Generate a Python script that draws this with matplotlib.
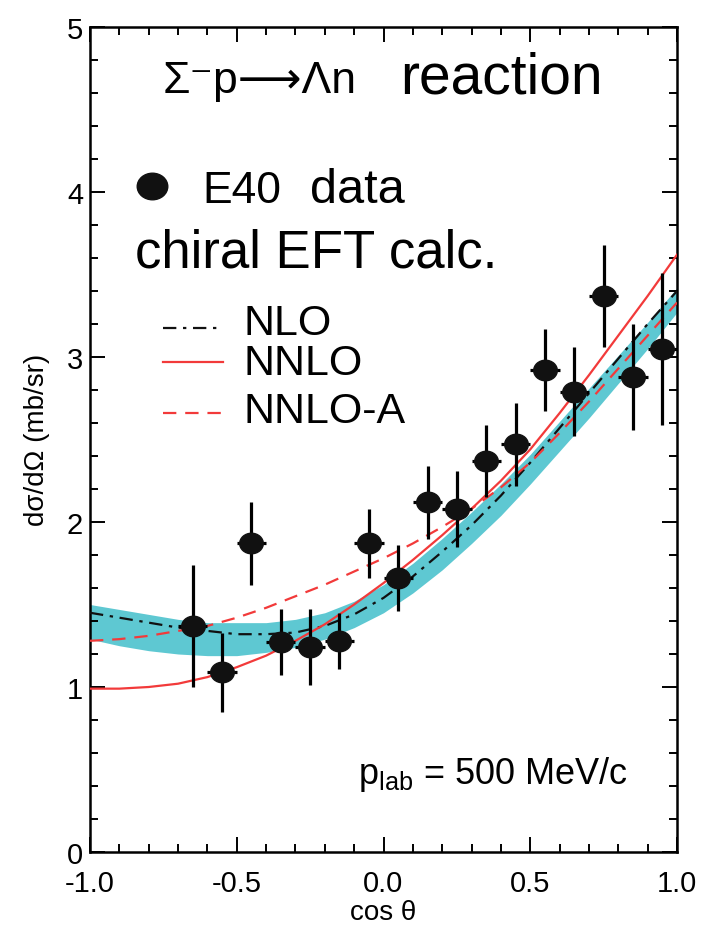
import numpy as np
import matplotlib
matplotlib.use('Agg')
import matplotlib.pyplot as plt
from matplotlib.lines import Line2D
from matplotlib.path import Path
from matplotlib.transforms import Affine2D
from matplotlib.ticker import MultipleLocator

plt.rcParams['font.family'] = ['Liberation Sans', 'DejaVu Sans']
plt.rcParams['mathtext.fontset'] = 'custom'
plt.rcParams['mathtext.rm'] = 'Liberation Sans'
plt.rcParams['mathtext.it'] = 'Liberation Sans:italic'

# E40 data points
cos_data = [-0.65, -0.55, -0.45, -0.35, -0.25, -0.15, -0.05, 0.05, 0.15,
            0.25, 0.35, 0.45, 0.55, 0.65, 0.75, 0.85, 0.95]
xs_data = [1.37, 1.09, 1.87, 1.27, 1.24, 1.28, 1.87, 1.66, 2.12,
           2.08, 2.37, 2.47, 2.92, 2.79, 3.37, 2.88, 3.05]
xs_err = [0.37, 0.24, 0.25, 0.20, 0.23, 0.17, 0.21, 0.20, 0.22,
          0.23, 0.22, 0.25, 0.25, 0.27, 0.31, 0.32, 0.46]
bin_half = 0.05

# chiral EFT curves
cos_grid = [-1.0, -0.9, -0.8, -0.7, -0.6, -0.5, -0.4, -0.3, -0.2, -0.1, 0.0,
            0.1, 0.2, 0.3, 0.4, 0.5, 0.6, 0.7, 0.8, 0.9, 1.0]
nlo = [1.45, 1.42, 1.39, 1.36, 1.34, 1.32, 1.32, 1.33, 1.37, 1.44, 1.54,
       1.67, 1.82, 1.98, 2.16, 2.36, 2.57, 2.78, 2.99, 3.20, 3.40]
nlo_lo = [1.29, 1.25, 1.22, 1.20, 1.19, 1.19, 1.21, 1.24, 1.29, 1.36, 1.45,
          1.57, 1.71, 1.87, 2.04, 2.23, 2.43, 2.63, 2.84, 3.05, 3.27]
nlo_hi = [1.50, 1.47, 1.44, 1.41, 1.39, 1.39, 1.39, 1.41, 1.45, 1.52, 1.62,
          1.75, 1.90, 2.06, 2.23, 2.41, 2.61, 2.81, 3.01, 3.21, 3.42]
nnlo = [0.99, 0.99, 1.00, 1.02, 1.06, 1.12, 1.19, 1.28, 1.38, 1.50, 1.63,
        1.77, 1.92, 2.08, 2.25, 2.44, 2.66, 2.89, 3.13, 3.37, 3.62]
nnlo_a = [1.28, 1.29, 1.31, 1.34, 1.37, 1.42, 1.48, 1.55, 1.62, 1.70, 1.78,
          1.87, 1.97, 2.08, 2.21, 2.36, 2.54, 2.73, 2.93, 3.13, 3.33]

W, H = 701, 928


def fx(px):
    return px / W


def fy(py):
    return 1 - py / H


fig = plt.figure(figsize=(W / 100, H / 100), dpi=100)
ax = fig.add_axes([fx(90), fy(853), (677 - 90) / W, (853 - 28) / H])

band_col = '#5ec8d2'
red = '#f23a3a'

ax.fill_between(cos_grid, nlo_lo, nlo_hi, color=band_col, lw=0, zorder=1)
ax.plot(cos_grid, nlo, color='#111111', lw=1.6, ls=(0, (6, 3, 1.5, 3)), zorder=3)
ax.plot(cos_grid, nnlo, color=red, lw=1.6, zorder=3)
ax.plot(cos_grid, nnlo_a, color=red, lw=1.6, ls=(0, (6, 4)), zorder=3)

# slightly wide round markers as in the figure
ell = Path.unit_circle().transformed(Affine2D().scale(1.15, 1.0))
ax.errorbar(cos_data, xs_data, yerr=xs_err, xerr=bin_half, fmt='none',
            ecolor='black', elinewidth=2.3, capsize=0, zorder=4)
ax.plot(cos_data, xs_data, ls='none', marker=ell, ms=17, color='#111111', zorder=5)

ax.set_xlim(-1, 1)
ax.set_ylim(0, 5)
ax.xaxis.set_minor_locator(MultipleLocator(0.1))
ax.yaxis.set_minor_locator(MultipleLocator(0.2))
ax.set_xticks([-1.0, -0.5, 0.0, 0.5, 1.0])
ax.set_xticklabels(['-1.0', '-0.5', '0.0', '0.5', '1.0'])
ax.set_yticks([0, 1, 2, 3, 4, 5])
ax.set_yticklabels(['0', '1', '2', '3', '4', '5'])
ax.tick_params(which='both', direction='in', top=True, right=True, width=1.4)
ax.tick_params(which='major', length=11)
ax.tick_params(which='minor', length=5.5)
ax.tick_params(axis='x', which='major', labelsize=21, pad=12)
ax.tick_params(axis='y', which='major', labelsize=21, pad=5)
for s in ax.spines.values():
    s.set_linewidth(1.8)

fig.text(fx(383), fy(913), 'cos θ', ha='center', va='center', fontsize=20)
fig.text(fx(37), fy(440), 'dσ/dΩ (mb/sr)', ha='center', va='center',
         rotation=90, fontsize=20)

# annotations
fig.text(fx(163), fy(93), 'Σ⁻p⟶Λn', fontsize=32, ha='left', va='baseline')
fig.text(fx(400), fy(93), 'reaction', fontsize=41, ha='left', va='baseline')

fig.add_artist(Line2D([fx(152)], [fy(187)], transform=fig.transFigure,
                      marker=ell, ms=22, color='#111111', ls='none'))
fig.text(fx(202), fy(203), 'E40', fontsize=32, ha='left', va='baseline',
         family=['Liberation Sans Narrow', 'Liberation Sans', 'DejaVu Sans'])
fig.text(fx(310), fy(203), 'data', fontsize=35, ha='left', va='baseline')
fig.text(fx(135), fy(268), 'chiral EFT calc.', fontsize=38, ha='left', va='baseline')

legend_rows = [('NLO', 329, 324, '#111111', (0, (6, 3, 1.5, 3))),
               ('NNLO', 363, 364, red, '-'),
               ('NNLO-A', 414, 412, red, (0, (6, 4)))]
for lab, ly, ty, col, ls in legend_rows:
    fig.add_artist(Line2D([fx(163), fx(223)], [fy(ly), fy(ly)],
                          transform=fig.transFigure, color=col, lw=1.6, ls=ls))
    fig.text(fx(243), fy(ty), lab, fontsize=31, ha='left', va='center')

fig.text(fx(358), fy(775), r'$\mathregular{p_{lab}}$ = 500 MeV/c', fontsize=26,
         ha='left', va='center')

fig.savefig('out.png', dpi=100)
